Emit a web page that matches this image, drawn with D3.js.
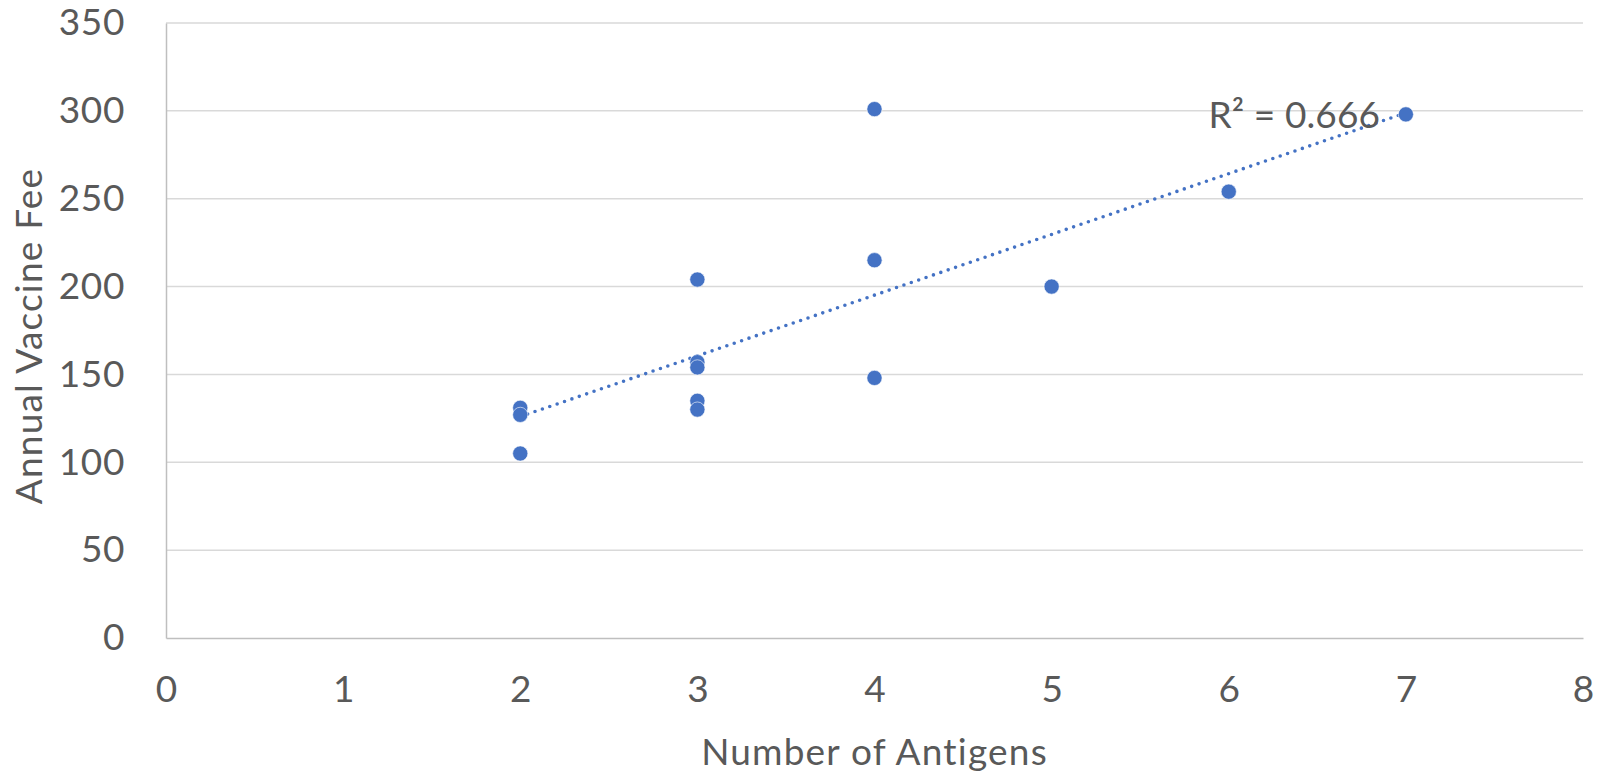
<!DOCTYPE html>
<html>
<head>
<meta charset="utf-8">
<script src="https://cdn.jsdelivr.net/npm/d3@7"></script>
<style>
  html, body { margin: 0; padding: 0; background: #ffffff; }
  svg { display: block; }
  text { font-family: Lato, "Open Sans", sans-serif; fill: #595959; }
</style>
</head>
<body>
<svg id="chart" width="1608" height="775"></svg>
<script>
// Number of antigens covered per vaccine plan and the annual fee charged
const antigens = [2, 2, 2, 3, 3, 3, 3, 3, 4, 4, 4, 5, 6, 7];
const annualFee = [105, 131, 127, 204, 157, 154, 135, 130, 301, 215, 148, 200, 254, 298];

const xTicks = [0, 1, 2, 3, 4, 5, 6, 7, 8];
const yTicks = [0, 50, 100, 150, 200, 250, 300, 350];
const rSquaredLabel = "R² = 0.666";

const plot = { left: 166, right: 1583, top: 23, bottom: 638 };
const blue = "#4472C4";
const fontStack = "Lato, 'Open Sans', sans-serif";

const svg = d3.select("#chart");

const x = d3.scaleLinear().domain([0, 8]).range([plot.left, plot.right]);
const y = d3.scaleLinear().domain([0, 350]).range([plot.bottom, plot.top]);

// Horizontal gridlines
svg.append("g")
  .selectAll("line")
  .data(yTicks.filter(v => v > 0))
  .join("line")
  .attr("x1", plot.left).attr("x2", plot.right)
  .attr("y1", d => y(d)).attr("y2", d => y(d))
  .attr("stroke", "#d9d9d9").attr("stroke-width", 1.5);

// Y axis (line + labels)
const yAxis = svg.append("g")
  .attr("transform", `translate(${plot.left},0)`)
  .call(d3.axisLeft(y).tickValues(yTicks).tickSize(0).tickPadding(41));
yAxis.select(".domain").attr("stroke", "#bfbfbf").attr("stroke-width", 1.5);
yAxis.selectAll("text")
  .attr("font-size", 37)
  .attr("letter-spacing", 0.6)
  .attr("fill", "#595959")
  .style("font-family", fontStack);

// X axis (line + labels)
const xAxis = svg.append("g")
  .attr("transform", `translate(0,${plot.bottom})`)
  .call(d3.axisBottom(x).tickValues(xTicks).tickSize(0).tickPadding(38));
xAxis.select(".domain").attr("stroke", "#bfbfbf").attr("stroke-width", 1.5);
xAxis.selectAll("text")
  .attr("font-size", 37)
  .attr("fill", "#595959")
  .style("font-family", fontStack);

// Axis titles
svg.append("text")
  .attr("x", (plot.left + plot.right) / 2)
  .attr("y", 765)
  .attr("text-anchor", "middle")
  .attr("font-size", 37)
  .attr("letter-spacing", 1.2)
  .text("Number of Antigens");

svg.append("text")
  .attr("transform", "translate(42,336) rotate(-90)")
  .attr("text-anchor", "middle")
  .attr("font-size", 37)
  .attr("letter-spacing", 1.2)
  .text("Annual Vaccine Fee");

// Least-squares linear trendline
const n = antigens.length;
const mx = d3.mean(antigens), my = d3.mean(annualFee);
let sxy = 0, sxx = 0;
for (let i = 0; i < n; i++) {
  sxy += (antigens[i] - mx) * (annualFee[i] - my);
  sxx += (antigens[i] - mx) ** 2;
}
const slope = sxy / sxx;
const intercept = my - slope * mx;
const xExtent = d3.extent(antigens);

svg.append("line")
  .attr("x1", x(xExtent[0])).attr("y1", y(intercept + slope * xExtent[0]))
  .attr("x2", x(xExtent[1])).attr("y2", y(intercept + slope * xExtent[1]))
  .attr("stroke", blue)
  .attr("stroke-width", 3.6)
  .attr("stroke-linecap", "round")
  .attr("stroke-dasharray", "0 7.8");

// Data points
svg.append("g")
  .selectAll("circle")
  .data(antigens.map((a, i) => [a, annualFee[i]]))
  .join("circle")
  .attr("cx", d => x(d[0]))
  .attr("cy", d => y(d[1]))
  .attr("r", 7.6)
  .attr("fill", blue)
  .attr("stroke", "#ffffff")
  .attr("stroke-width", 0.6);

// Coefficient of determination label
svg.append("text")
  .attr("x", 1380)
  .attr("y", 127.5)
  .attr("text-anchor", "end")
  .attr("font-size", 37)
  .attr("letter-spacing", 0.1)
  .text(rSquaredLabel);
</script>
</body>
</html>
